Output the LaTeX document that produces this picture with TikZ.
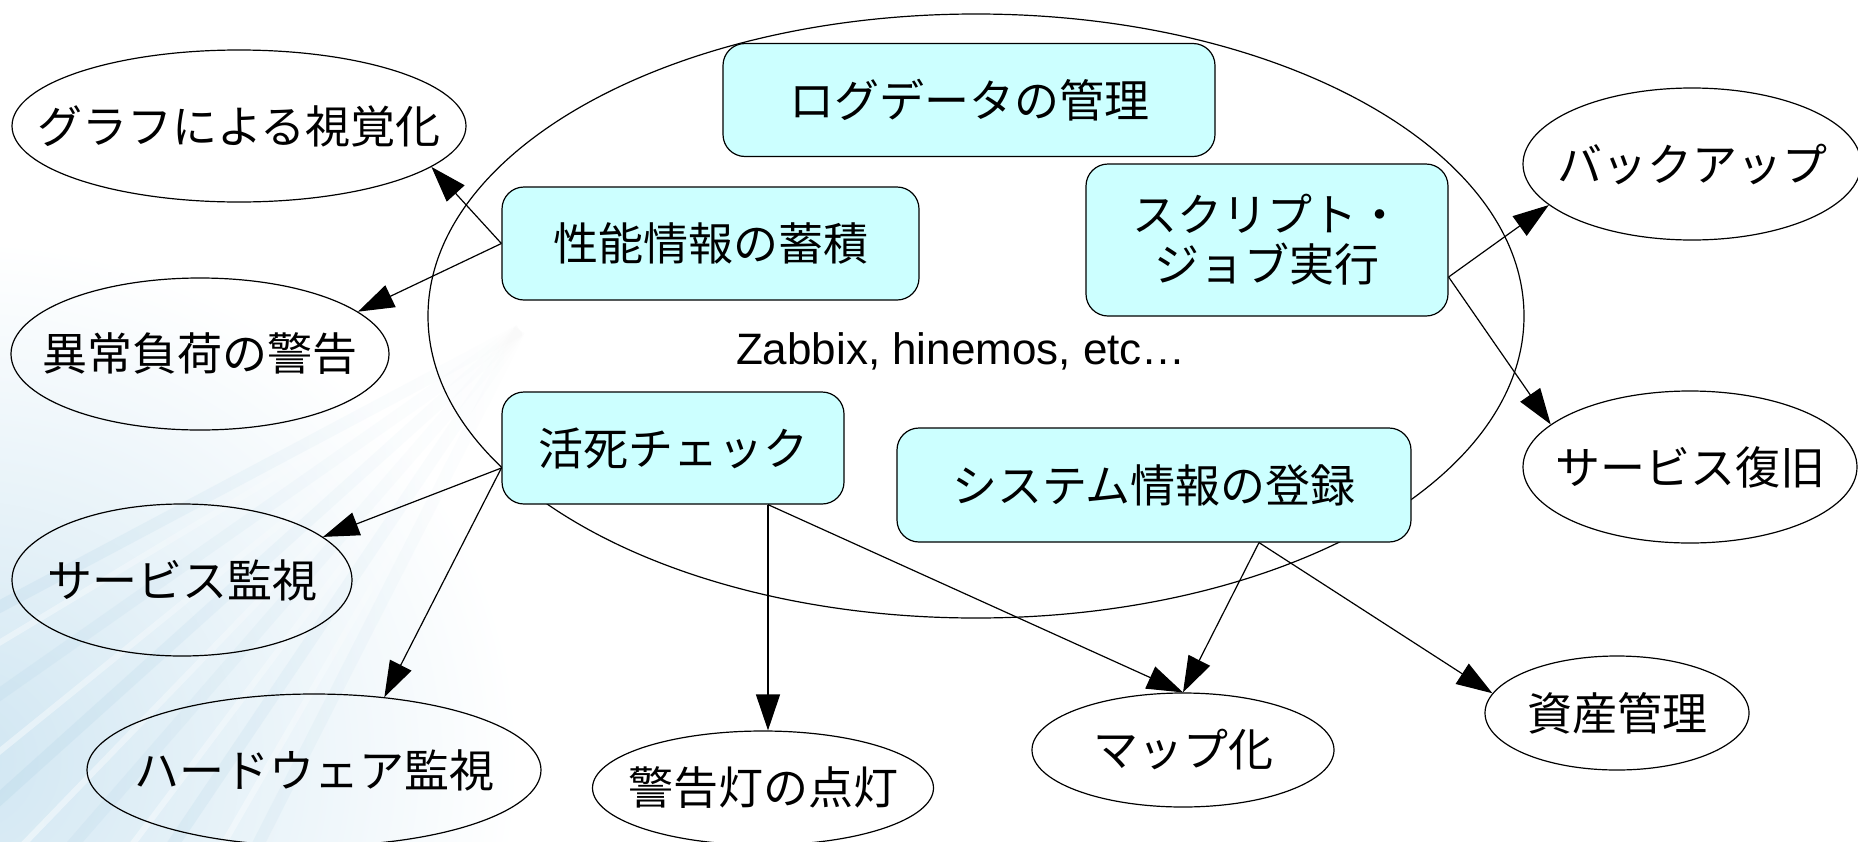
\documentclass[tikz,border=0pt]{standalone}
\usepackage{fontspec}
\setmainfont{Liberation Sans}
\newfontfamily\jpfont{Noto Sans CJK JP}
\usetikzlibrary{shapes.geometric,arrows.meta,calc,fadings}
\definecolor{boxcyan}{RGB}{204,255,255}
\definecolor{bgA}{RGB}{208,230,242}
\definecolor{bgB}{RGB}{175,210,230}
\begin{document}
\begin{tikzpicture}[x=0.5pt,y=-0.5pt,
  oval/.style={ellipse, draw=black, line width=0.6pt, inner xsep=-80pt, inner ysep=-30pt,
    font=\jpfont\fontsize{22.5}{25}\selectfont},
  task/.style={rectangle, rounded corners=11pt, draw=black, fill=boxcyan,
    line width=0.6pt, inner sep=0pt, align=center,
    font=\jpfont\fontsize{22.5}{25}\selectfont},
  arr/.style={-{Triangle[length=18pt,width=12pt]}, line width=0.6pt}]
\useasboundingbox (0,0) rectangle (1858,841);
% background
\begin{scope}
\clip (0,0) rectangle (1858,841);
\fill[white] (0,0) rectangle (1858,841);
\shade[inner color=bgA, outer color=white] (-40,760) ellipse [x radius=560, y radius=520];
\foreach \a/\o in {152/0.30,145/0.22,138/0.28,131/0.2,124/0.25,117/0.18}{
  \draw[bgB, opacity=\o, line width=6pt, path fading=east] (520,330) -- ++(\a:760);
}
\foreach \a in {149,141,134,127,120}{
  \draw[white, opacity=0.5, line width=3pt, path fading=east] (520,330) -- ++(\a:760);
}
\end{scope}
% big ellipse
\node[ellipse, draw=black, line width=0.6pt, minimum width=548pt, minimum height=302pt, inner sep=0pt] (tool) at (976,316) {};
\node[font=\fontsize{22}{25}\selectfont] (zab) at (961,351) {Zabbix, hinemos, etc…};
% boxes
\node[task, minimum width=246pt, minimum height=56.5pt] (log) at (969,100) {ログデータの管理};
\node[task, minimum width=208.5pt, minimum height=56.5pt] (sei) at (710.5,243.5) {性能情報の蓄積};
\node[task, minimum width=181pt, minimum height=76pt] (script) at (1267,240) {スクリプト・\\ジョブ実行};
\node[task, minimum width=171pt, minimum height=56pt] (kat) at (673,448) {活死チェック};
\node[task, minimum width=257pt, minimum height=57pt] (sys) at (1154,485) {システム情報の登録};
% outer ellipses
\node[oval, minimum width=227pt, minimum height=76pt] (graph) at (239,126) {グラフによる視覚化};
\node[oval, minimum width=189pt, minimum height=76pt] (ijou) at (200,354) {異常負荷の警告};
\node[oval, minimum width=170pt, minimum height=76pt] (svc) at (182,580) {サービス監視};
\node[oval, minimum width=227pt, minimum height=76pt] (hw) at (314,770) {ハードウェア監視};
\node[oval, minimum width=170.5pt, minimum height=57pt] (keikoku) at (763,788) {警告灯の点灯};
\node[oval, minimum width=151pt, minimum height=57pt] (map) at (1183,750) {マップ化};
\node[oval, minimum width=132pt, minimum height=57pt] (shisan) at (1617,713) {資産管理};
\node[oval, minimum width=169pt, minimum height=76pt] (backup) at (1692,164) {バックアップ};
\node[oval, minimum width=167pt, minimum height=76pt] (fukkyu) at (1690,467) {サービス復旧};
% connector start points
\coordinate (katW) at ($(kat.west)+(0,20)$);
\coordinate (katS) at ($(kat.south)+(95,0)$);
\coordinate (sysS) at ($(sys.south)+(105,0)$);
\coordinate (scrE) at ($(script.east)+(0,37)$);
% connectors
\draw[arr] (sei.west) -- (graph.-12);
\draw[arr] (sei.west) -- (ijou.15);
\draw[arr] (katW) -- (svc.17);
\draw[arr] (katW) -- (hw.46);
\draw[arr] (katS) -- (katS |- keikoku.north);
\draw[arr] (katS) -- (map.north);
\draw[arr] (sysS) -- (map.north);
\draw[arr] (sysS) -- (shisan.171);
\draw[arr] (scrE) -- (backup.196);
\draw[arr] (scrE) -- (fukkyu.163);
\end{tikzpicture}
\end{document}
